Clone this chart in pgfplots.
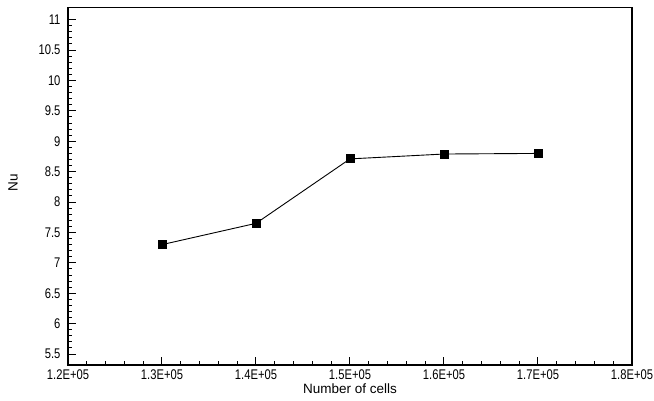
\documentclass[border=0pt]{standalone}
\usepackage{pgfplots}
\pgfplotsset{compat=1.18}
\usepackage{fontspec}
\setmainfont{Liberation Sans}
\newfontfamily\tickfont[FakeStretch=0.8]{Liberation Sans}
\begin{document}
\begin{tikzpicture}[x=1pt,y=1pt]
\begin{axis}[
  at={(0,0)}, anchor=south west,
  scale only axis, width=564pt, height=357.5pt,
  xmin=120000, xmax=180000, ymin=5.32, ymax=11.2,
  xtick={120000,130000,140000,150000,160000,170000,180000},
  xticklabels={1.2E+05,1.3E+05,1.4E+05,1.5E+05,1.6E+05,1.7E+05,1.8E+05},
  scaled x ticks=false,
  minor x tick num=4,
  ytick={5.5,6,6.5,7,7.5,8,8.5,9,9.5,10,10.5,11},
  yticklabels={5.5,6,6.5,7,7.5,8,8.5,9,9.5,10,10.5,11},
  minor y tick num=4,
  tick align=inside, xtick pos=bottom, ytick pos=left,
  major tick length=8pt, minor tick length=4pt,
  every tick/.style={line width=1pt, black},
  axis line style={line width=1.6pt},
  ticklabel style={font=\fontsize{14}{14}\selectfont\tickfont},
  yticklabel style={xshift=-4pt},
  xticklabel style={yshift=-1pt},
  xlabel={Number of cells}, ylabel={Nu},
  label style={font=\fontsize{13.5}{13.5}\selectfont},
  xlabel style={at={(axis description cs:0.5,-0.066)}, anchor=center},
  ylabel style={at={(axis description cs:-0.0975,0.51)}, anchor=center},
  clip=false,
]
\addplot[black, line width=0.9pt, mark=square*, mark size=4pt, mark options={solid}]
coordinates {
(130000,7.30)
(140000,7.65)
(150000,8.71)
(160000,8.79)
(170000,8.80)
};
\end{axis}
\pgfresetboundingbox
\path (-68,-36) rectangle (586,365);
\end{tikzpicture}
\end{document}
